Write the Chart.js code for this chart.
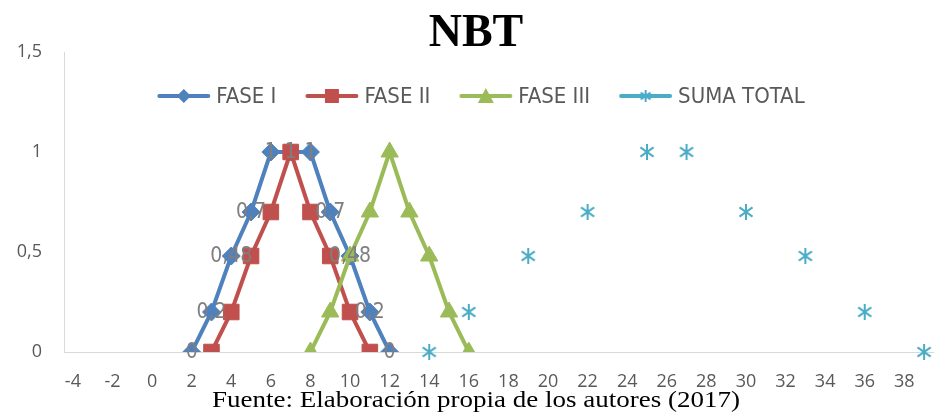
<!DOCTYPE html>
<html>
<head>
<meta charset="utf-8">
<script src="https://cdn.jsdelivr.net/npm/chart.js@4"></script>
<style>
  html, body { margin: 0; padding: 0; background: #fff; }
  #wrap { width: 934px; height: 416px; }
</style>
</head>
<body>
<div id="wrap"><canvas id="nbtChart" width="934" height="416"></canvas></div>
<script>
// data
const faseIX = [2, 3, 4, 5, 6, 7, 8, 9, 10, 11, 12];
const faseIY = [0, 0.2, 0.48, 0.7, 1, 1, 1, 0.7, 0.48, 0.2, 0];
const faseIIX = [3, 4, 5, 6, 7, 8, 9, 10, 11];
const faseIIY = [0, 0.2, 0.48, 0.7, 1, 0.7, 0.48, 0.2, 0];
const faseIIIX = [8, 9, 10, 11, 12, 13, 14, 15, 16];
const faseIIIY = [0, 0.2, 0.48, 0.7, 1, 0.7, 0.48, 0.2, 0];
const sumaX = [14, 16, 19, 22, 25, 27, 30, 33, 36, 39];
const sumaY = [0, 0.2, 0.48, 0.7, 1, 1, 0.7, 0.48, 0.2, 0];
const xTicks = [-4, -2, 0, 2, 4, 6, 8, 10, 12, 14, 16, 18, 20, 22, 24, 26, 28, 30, 32, 34, 36, 38];
const yTicks = [0, 0.5, 1, 1.5];
const seriesNames = ['FASE I', 'FASE II', 'FASE III', 'SUMA TOTAL'];

const toPoints = (xs, ys) => xs.map((x, i) => ({ x: x, y: ys[i] }));
const comma = v => String(v).replace('.', ',');

// asterisk marker like the spreadsheet one
function makeAsterisk(color, size) {
    const c = document.createElement('canvas');
    c.width = size; c.height = size;
    const g = c.getContext('2d');
    g.strokeStyle = color;
    g.lineWidth = 2;
    const r = size / 2 - 1;
    [90, 35, 145].forEach(a => {
        const rad = a * Math.PI / 180;
        g.beginPath();
        g.moveTo(size / 2 - Math.cos(rad) * r, size / 2 - Math.sin(rad) * r);
        g.lineTo(size / 2 + Math.cos(rad) * r, size / 2 + Math.sin(rad) * r);
        g.stroke();
    });
    return c;
}

const colors = ['#4F81BD', '#C0504D', '#9BBB59', '#4BACC6'];
const asterisk = makeAsterisk(colors[3], 18);
const asteriskSmall = makeAsterisk(colors[3], 14);

// labels on FASE I points, legend drawn inside the plot, title and source line
const extrasPlugin = {
    id: 'extras',
    afterDatasetsDraw(chart) {
        const ctx = chart.ctx;
        const meta = chart.getDatasetMeta(0);
        ctx.save();
        ctx.font = '21px "Liberation Sans Narrow", "DejaVu Sans Condensed", sans-serif';
        ctx.fillStyle = '#7F7F7F';
        ctx.textAlign = 'center';
        ctx.textBaseline = 'middle';
        meta.data.forEach((pt, i) => {
            ctx.fillText(comma(faseIY[i]), pt.x, pt.y + 1);
        });
        ctx.restore();
    },
    afterDraw(chart) {
        const ctx = chart.ctx;
        ctx.save();
        // title
        ctx.fillStyle = '#000';
        ctx.textAlign = 'center';
        ctx.textBaseline = 'alphabetic';
        ctx.font = 'bold 46px "Liberation Serif", "Times New Roman", serif';
        ctx.fillText('NBT', 476, 46);
        // source line (looks squashed vertically in the original)
        ctx.font = '27px "Liberation Serif", "Times New Roman", serif';
        ctx.save();
        ctx.translate(476, 407);
        ctx.scale(1, 0.86);
        ctx.fillText('Fuente: Elaboración propia de los autores (2017)', 0, 0);
        ctx.restore();

        // legend
        ctx.font = '22px "Liberation Sans Narrow", "DejaVu Sans Condensed", sans-serif';
        ctx.textBaseline = 'middle';
        ctx.textAlign = 'left';
        const lineLen = 53, gapText = 6, gapItem = 29, ly = 96;
        const widths = seriesNames.map(n => lineLen + gapText + ctx.measureText(n).width);
        const total = widths.reduce((a, b) => a + b, 0) + gapItem * (widths.length - 1);
        let lx = 481 - total / 2;
        seriesNames.forEach((name, i) => {
            const col = colors[i];
            ctx.strokeStyle = col;
            ctx.lineWidth = 4;
            ctx.lineCap = 'round';
            ctx.beginPath();
            ctx.moveTo(lx + 2, ly);
            ctx.lineTo(lx + lineLen - 2, ly);
            ctx.stroke();
            const cx = lx + lineLen / 2;
            ctx.fillStyle = col;
            ctx.beginPath();
            if (i === 0) {
                ctx.moveTo(cx, ly - 7); ctx.lineTo(cx + 7, ly); ctx.lineTo(cx, ly + 7); ctx.lineTo(cx - 7, ly);
                ctx.closePath(); ctx.fill();
            } else if (i === 1) {
                ctx.fillRect(cx - 7, ly - 7, 14, 14);
            } else if (i === 2) {
                ctx.moveTo(cx, ly - 8); ctx.lineTo(cx + 8, ly + 7); ctx.lineTo(cx - 8, ly + 7);
                ctx.closePath(); ctx.fill();
            } else {
                ctx.drawImage(asteriskSmall, cx - 7, ly - 7);
            }
            ctx.fillStyle = '#595959';
            ctx.fillText(name, lx + lineLen + gapText, ly + 1);
            lx += widths[i] + gapItem;
        });
        ctx.restore();
    }
};

const ctx = document.getElementById('nbtChart').getContext('2d');
new Chart(ctx, {
    type: 'scatter',
    data: {
        datasets: [{
            label: seriesNames[0],
            data: toPoints(faseIX, faseIY),
            showLine: true,
            borderColor: colors[0],
            backgroundColor: colors[0],
            borderWidth: 4,
            pointStyle: 'rectRot',
            pointRadius: 9,
            pointBorderWidth: 1,
            order: 3
        }, {
            label: seriesNames[1],
            data: toPoints(faseIIX, faseIIY),
            showLine: true,
            borderColor: colors[1],
            backgroundColor: colors[1],
            borderWidth: 4,
            pointStyle: 'rect',
            pointRadius: 11,
            pointBorderWidth: 1,
            order: 2
        }, {
            label: seriesNames[2],
            data: toPoints(faseIIIX, faseIIIY),
            showLine: true,
            borderColor: colors[2],
            backgroundColor: colors[2],
            borderWidth: 4,
            pointStyle: 'triangle',
            pointRadius: 10,
            pointBorderWidth: 1,
            order: 1
        }, {
            label: seriesNames[3],
            data: toPoints(sumaX, sumaY),
            showLine: false,
            borderColor: colors[3],
            backgroundColor: colors[3],
            pointStyle: asterisk,
            clip: false,
            order: 0
        }]
    },
    options: {
        responsive: false,
        animation: false,
        layout: { autoPadding: false, padding: { top: 52, right: 0, left: 0, bottom: 0 } },
        plugins: {
            legend: { display: false },
            title: { display: false },
            tooltip: { enabled: false }
        },
        scales: {
            x: {
                type: 'linear',
                min: -4.45,
                max: 39.5,
                afterBuildTicks: axis => { axis.ticks = xTicks.map(v => ({ value: v })); },
                afterFit: axis => {
                    axis.height = 64;
                    axis.paddingLeft = 0;
                    axis.paddingRight = 0;
                },
                grid: { display: false, drawTicks: false },
                border: { display: true, color: '#D9D9D9', width: 1 },
                ticks: {
                    padding: 19,
                    color: '#595959',
                    font: { family: '"Open Sans", sans-serif', size: 18 },
                    maxRotation: 0,
                    autoSkip: false
                }
            },
            y: {
                min: 0,
                max: 1.5,
                afterBuildTicks: axis => { axis.ticks = yTicks.map(v => ({ value: v })); },
                afterFit: axis => {
                    axis.width = 64;
                    axis.paddingTop = 0;
                    axis.paddingBottom = 0;
                },
                grid: { display: false, drawTicks: false },
                border: { display: true, color: '#D9D9D9', width: 1 },
                ticks: {
                    padding: 22,
                    color: '#595959',
                    font: { family: '"Open Sans", sans-serif', size: 18 },
                    callback: v => comma(v)
                }
            }
        }
    },
    plugins: [extrasPlugin]
});
</script>
</body>
</html>
